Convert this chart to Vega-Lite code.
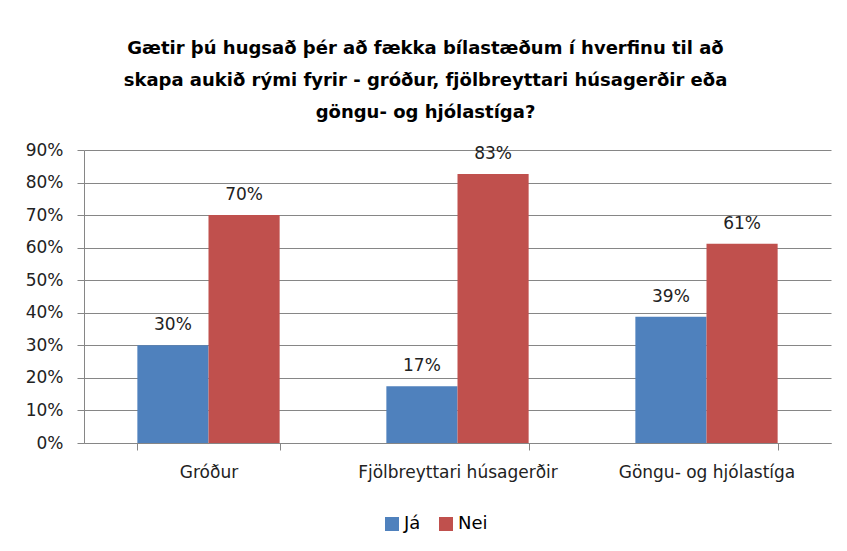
{
  "$schema": "https://vega.github.io/schema/vega-lite/v6.json",
  "autosize": "none",
  "width": 747,
  "height": 293,
  "padding": {"left": 84, "top": 150, "right": 16, "bottom": 108},
  "background": "white",
  "title": {
    "text": ["Gætir þú hugsað þér að fækka bílastæðum í hverfinu til að", "skapa aukið rými fyrir - gróður, fjölbreyttari húsagerðir eða", "göngu- og hjólastíga?"],
    "anchor": "middle",
    "frame": "group",
    "dx": -32,
    "font": "DejaVu Sans",
    "fontSize": 18,
    "fontWeight": "bold",
    "lineHeight": 32,
    "color": "#000000",
    "baseline": "alphabetic",
    "offset": 5
  },
  "data": {
    "values": [
      {"cat": "Gróður", "series": "Já", "value": 0.30},
      {"cat": "Gróður", "series": "Nei", "value": 0.70},
      {"cat": "Fjölbreyttari húsagerðir", "series": "Já", "value": 0.174},
      {"cat": "Fjölbreyttari húsagerðir", "series": "Nei", "value": 0.826},
      {"cat": "Göngu- og hjólastíga", "series": "Já", "value": 0.388},
      {"cat": "Göngu- og hjólastíga", "series": "Nei", "value": 0.612}
    ]
  },
  "encoding": {
    "x": {
      "field": "cat", "type": "nominal", "sort": null,
      "scale": {"paddingInner": 0.4286, "paddingOuter": 0.2143},
      "axis": {
        "title": null, "labelAngle": 0, "tickBand": "extent", "labelLimit": 400,
        "domainColor": "#868686", "tickColor": "#868686", "tickSize": 7,
        "labelFont": "DejaVu Sans", "labelFontSize": 17, "labelColor": "#222222",
        "labelPadding": 14
      }
    },
    "xOffset": {"field": "series", "type": "nominal", "sort": ["Já", "Nei"]},
    "y": {
      "field": "value", "type": "quantitative",
      "scale": {"domain": [0, 0.9], "nice": false},
      "axis": {
        "title": null, "format": ".0%",
        "values": [0, 0.1, 0.2, 0.3, 0.4, 0.5, 0.6, 0.7, 0.8, 0.9],
        "grid": true, "gridColor": "#868686", "gridWidth": 1,
        "domainColor": "#868686", "tickColor": "#868686", "tickSize": 7,
        "labelFont": "DejaVu Sans", "labelFontSize": 17, "labelColor": "#222222",
        "labelPadding": 14
      }
    }
  },
  "layer": [
    {
      "mark": {"type": "bar"},
      "encoding": {
        "color": {
          "field": "series", "type": "nominal",
          "scale": {"domain": ["Já", "Nei"], "range": ["#4F81BD", "#C0504D"]},
          "legend": {
            "title": null, "orient": "none", "direction": "horizontal",
            "legendX": 299, "legendY": 365, "padding": 0,
            "symbolType": "square", "symbolSize": 196, "symbolStrokeWidth": 0,
            "labelFont": "DejaVu Sans", "labelFontSize": 18, "labelColor": "#000000",
            "labelOffset": 3, "columnPadding": 16
          }
        }
      }
    },
    {
      "mark": {"type": "text", "baseline": "alphabetic", "dy": -15, "font": "DejaVu Sans", "fontSize": 17, "color": "#222222"},
      "encoding": {
        "text": {"field": "value", "type": "quantitative", "format": ".0%"}
      }
    }
  ],
  "config": {"view": {"stroke": null}}
}
